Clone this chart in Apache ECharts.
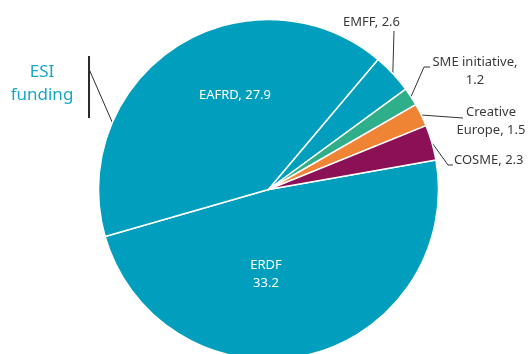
<!DOCTYPE html>
<html>
<head>
<meta charset="utf-8">
<script src="https://cdn.jsdelivr.net/npm/echarts@6/dist/echarts.min.js"></script>
<style>html,body{margin:0;padding:0;background:#fff}#c{width:528px;height:354px}</style>
</head>
<body>
<div id="c"></div>
<script>
const categories = ['ERDF', 'EAFRD', 'EMFF', 'SME initiative', 'Creative Europe', 'COSME'];
const values = [33.2, 27.9, 2.6, 1.2, 1.5, 2.3];
const labelTexts = ['ERDF\n33.2', 'EAFRD, 27.9', 'EMFF, 2.6', 'SME initiative,\n1.2', 'Creative\nEurope, 1.5', 'COSME, 2.3'];
const colors = ['#019fbd', '#019fbd', '#019fbd', '#2fae8a', '#ef8434', '#8c1055'];

const FONT = '"Noto Sans", sans-serif';
const chart = echarts.init(document.getElementById('c'), null, {renderer: 'canvas'});

// label placements (annotation positions, not mark coordinates)
const labelPos = [
  {x: 266, y: 274, align: 'center'},
  {x: 235, y: 95, align: 'center'},
  {x: 400, y: 22, align: 'right', line: [[394, 31]]},
  {x: 475, y: 71, align: 'center', line: [[424, 67], [430, 67]]},
  {x: 491, y: 121, align: 'center', line: [[463, 118]]},
  {x: 454, y: 160, align: 'left', line: [[448, 165], [453, 165]]}
];

const data = categories.map((c, i) => ({
  name: c,
  value: values[i],
  itemStyle: {color: colors[i]},
  label: {
    formatter: labelTexts[i],
    position: i < 2 ? 'inside' : 'outside',
    color: i < 2 ? '#ffffff' : '#3a3a3a',
    fontSize: 13,
    lineHeight: 18,
    fontFamily: FONT,
    align: 'center',
    overflow: 'none'
  },
  labelLine: {show: i >= 2}
}));

chart.setOption({
  animation: false,
  graphic: [
    {type: 'text', x: 42, y: 61, style: {text: 'ESI\nfunding', fill: '#17a7c5', font: '17px ' + FONT, lineHeight: 23, align: 'center'}},
    {type: 'line', shape: {x1: 89, y1: 56, x2: 89, y2: 118}, style: {stroke: '#2b2b2b', lineWidth: 2}},
    {type: 'line', shape: {x1: 89, y1: 69, x2: 113, y2: 124}, style: {stroke: '#2b2b2b', lineWidth: 1}}
  ],
  series: [{
    type: 'pie',
    center: [268.5, 189.5],
    radius: [0, 170],
    startAngle: 10,
    clockwise: true,
    silent: true,
    itemStyle: {borderColor: '#ffffff', borderWidth: 1.5},
    label: {overflow: 'none'},
    labelLine: {lineStyle: {color: '#333333', width: 1}, length: 10, length2: 10},
    emphasis: {disabled: true},
    data: data,
    labelLayout: function (params) {
      const p = labelPos[params.dataIndex];
      const out = {x: p.x, y: p.y, align: p.align, verticalAlign: 'middle'};
      if (p.line && params.labelLinePoints) {
        out.labelLinePoints = [params.labelLinePoints[0]].concat(p.line);
      }
      return out;
    }
  }]
});
</script>
</body>
</html>
